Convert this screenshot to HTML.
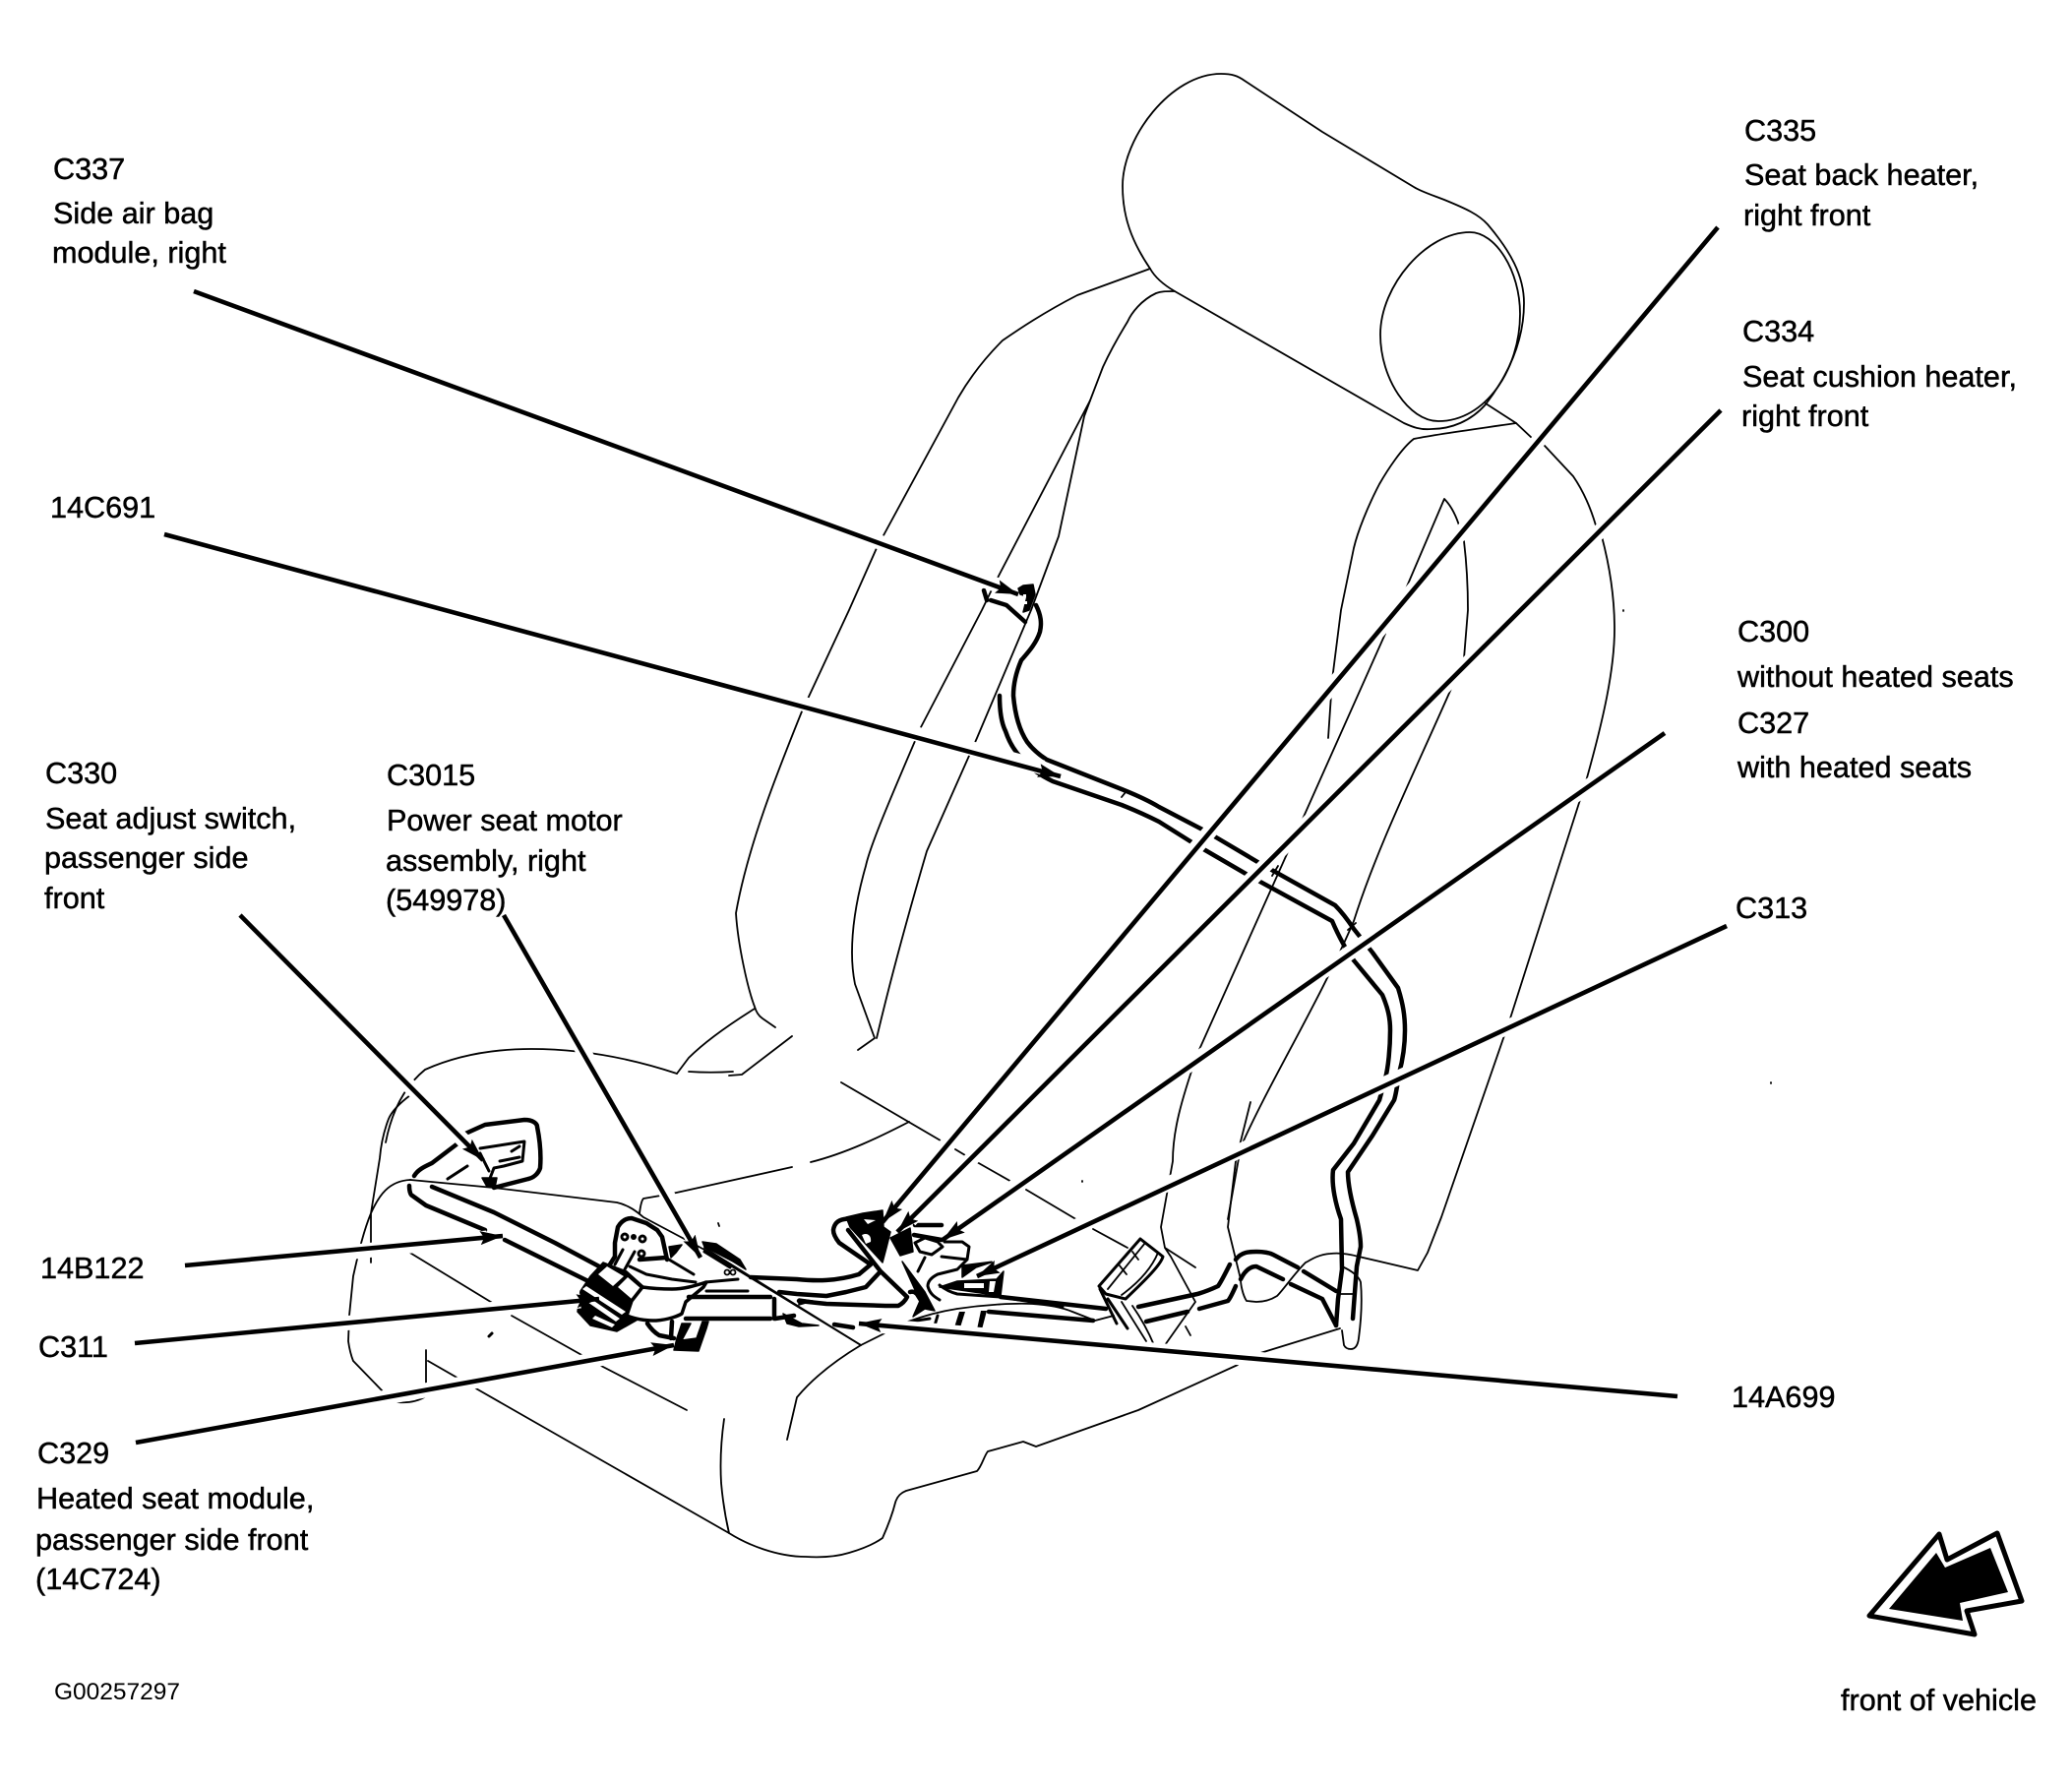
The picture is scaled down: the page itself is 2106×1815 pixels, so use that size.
<!DOCTYPE html>
<html><head><meta charset="utf-8"><style>
html,body{margin:0;padding:0;background:#fff}
svg{display:block}
text{font-family:"Liberation Sans",Arial,sans-serif;font-size:30.6px;fill:#000;stroke:#000;stroke-width:.5px}
.t{fill:none;stroke:#000;stroke-width:1.8;stroke-linejoin:round;stroke-linecap:round}
.h{fill:none;stroke:#000;stroke-width:4.5;stroke-linejoin:round;stroke-linecap:round}
.m{fill:none;stroke:#000;stroke-width:3;stroke-linejoin:round;stroke-linecap:round}
.b{fill:#000;stroke:#000;stroke-width:1.5;stroke-linejoin:round}
.w{fill:#fff;stroke:#000;stroke-width:2.5;stroke-linejoin:round}
.halo{stroke:#fff;stroke-width:15;fill:none}
.l{stroke:#000;stroke-width:4.6;fill:none;marker-end:url(#a)}
</style></head><body>
<svg xmlns="http://www.w3.org/2000/svg" width="2106" height="1815" viewBox="0 0 2106 1815">
<defs><marker id="a" markerUnits="userSpaceOnUse" markerWidth="26" markerHeight="16" refX="23" refY="7" orient="auto"><path d="M0,0 L23,7 L0,14 L4,7Z" fill="#000"/></marker></defs>
<rect width="2106" height="1815" fill="#fff"/>

<!-- headrest -->
<path class="t" d="M1169,273 C1150,245 1141,220 1141,189 C1141,140 1190,75 1241,75 C1252,75 1258,77 1265,82 L1344,134 L1437,190 C1445,195 1458,199 1468,203 C1490,212 1503,218 1512,228 C1535,255 1549,280 1549,308 C1549,350 1530,385 1510,411 C1495,428 1475,436 1455,436 C1443,437 1436,434 1427,430 L1194,296 C1182,289 1174,282 1169,273"/>
<path class="t" d="M1494,236 C1450,236 1403,290 1403,340 C1403,385 1432,428 1462,428 C1510,428 1545,375 1545,319 C1545,275 1520,236 1494,236Z"/>
<!-- seat back -->
<path class="t" d="M1169,273 L1095,300 C1060,318 1035,335 1019,346 C1000,365 985,385 974,404 L891,557 L863,620 L815,723 C790,785 760,860 748,928 C750,960 760,1005 767,1023 C769,1030 772,1033 775,1035 L788,1044"/>
<path class="t" d="M805,1053 L754,1092 L741,1093 M767,1025 C735,1045 715,1060 700,1075 L688,1091 M700,1089 C715,1090 730,1090 745,1089"/>
<path class="t" d="M1194,296 C1185,296 1180,296 1175,298 C1160,305 1150,318 1146,327 C1135,345 1127,360 1121,373 L1108,407 L1012,591 L998,620 L936,739 C910,800 885,857 880,880 C870,915 866,945 866,968 C866,985 868,995 869,1000 L889,1055 L872,1067"/>
<path class="t" d="M1108,407 L1102,423 L1076,545 L1048,620 L993,750 L942,865 C920,940 904,1000 891,1055"/>
<path class="t" d="M1510,410 L1541,430 C1500,436 1455,442 1437,446 C1425,455 1410,478 1402,492 C1390,515 1380,540 1376,557 L1363,620 L1354,691 L1350,750"/>
<path class="t" d="M1541,430 L1558,446 M1570,453 L1599,484 C1610,500 1617,517 1622,534 M1628,545 C1636,575 1641,605 1641,639 C1641,680 1630,730 1612,794 L1535,1035 L1465,1237 L1451,1273 L1441,1291 L1381,1277 C1370,1274 1360,1273 1352,1274 C1338,1275 1330,1282 1327,1283 C1315,1295 1305,1310 1298,1317 C1290,1322 1283,1323 1277,1323 L1267,1322 C1263,1316 1261,1305 1261,1300 L1248,1247 L1256,1180 L1271,1120"/>
<path class="t" d="M1468,507 L1424,610 M1468,507 C1476,515 1481,527 1484,537 M1488,550 C1491,575 1492,600 1492,620 L1488,669 M1478,693 C1440,780 1400,860 1376,936 C1340,1020 1290,1100 1261,1166 L1248,1239 M1408,644 L1325,830 L1217,1071 C1200,1120 1192,1150 1192,1180 L1180,1247 L1184,1268 L1190,1277 L1215,1323 L1184,1367 M1205,1348 L1210,1357 M1184,1268 L1215,1288"/>
<!-- cushion -->
<path class="t" d="M392,1161 C398,1130 410,1105 432,1087 C470,1070 510,1066 540,1066 C590,1066 640,1075 688,1091"/>
<path class="t" d="M417,1113 C405,1122 398,1130 395,1137 C390,1150 387,1165 386,1177 L377,1233 L377,1283 M417,1199 C395,1200 385,1215 377,1233 C370,1250 365,1270 359,1297 L355,1337 L354,1363 C355,1370 357,1378 359,1383 L390,1415"/>
<path class="t" d="M417,1199 L502,1207 L627,1222 C640,1225 648,1232 654,1237 L703,1263 L716,1270 L875,1367 M650,1233 C651,1225 652,1220 654,1218 L683,1213 L805,1186 M824,1181 C860,1172 895,1155 924,1140"/>
<path class="t" d="M433,1372 L433,1407 M435,1383 L482,1410 L741,1558 C760,1570 790,1582 819,1582 C835,1583 850,1582 863,1578 C880,1573 890,1568 897,1563 C905,1545 908,1535 910,1527 C912,1520 916,1517 921,1515 L993,1495 C998,1490 1000,1480 1004,1475 L1040,1465 L1053,1470 L1157,1433 L1258,1387 M1281,1375 L1362,1350 M404,1425 C415,1426 425,1424 433,1419"/>
<path class="t" d="M415,1272 L502,1325 M520,1337 L593,1378 M611,1388 L698,1433 M899,1355 L875,1367 C845,1385 825,1402 810,1420 L800,1463 M736,1442 C732,1470 732,1490 733,1507 C735,1530 738,1545 741,1558"/>
<path class="t" d="M855,1100 L961,1162 M971,1168 L981,1174 M993,1181 L1030,1202 M1043,1209 L1097,1241 M1111,1249 L1146,1268"/>

<!-- upper harness -->
<path class="h" d="M1053,615 C1058,625 1059,633 1057,642 C1053,655 1043,665 1038,671 C1032,685 1030,697 1030,707 C1032,730 1038,745 1044,754 C1050,762 1056,767 1064,772 L1140,802 C1155,808 1168,814 1178,820 L1226,845 L1280,877 L1357,920 C1365,928 1370,935 1376,944 L1395,968 L1421,1004 C1426,1020 1428,1032 1428,1047 C1428,1065 1425,1080 1422,1091 C1420,1105 1419,1112 1417,1118 L1395,1154 L1370,1191 C1370,1200 1372,1215 1379,1239 C1382,1252 1383,1260 1383,1267 L1379,1287 L1375,1340"/>
<path class="h" d="M1016,707 C1016,722 1018,735 1022,743 C1026,755 1032,764 1038,770 C1048,782 1058,788 1070,794 L1140,818 C1155,824 1168,830 1178,835 L1213,857 L1268,889 L1354,936 C1360,950 1368,965 1376,976 L1405,1011 C1411,1025 1413,1035 1413,1047 C1413,1065 1411,1085 1408,1096 L1402,1118 L1376,1162 L1355,1189 C1353,1205 1358,1225 1363,1239 L1364,1290 L1360,1320 L1358,1347"/>
<path class="t" d="M1364,1287 C1375,1292 1381,1297 1383,1303 C1385,1325 1383,1345 1381,1360 C1380,1368 1377,1371 1373,1371 C1369,1371 1367,1369 1366,1367 L1364,1352 M1362,1315 L1378,1315 M1140,810 L1144,805 M1293,890 L1299,880 M1370,945 L1378,938"/>

<!-- air bag connector -->
<path class="b" d="M1035,598 L1040,595 L1050,594 L1052,604 L1046,620 L1040,622 L1044,606 L1037,604Z"/>
<path d="M1040,604 h3 v3 h-3z M1041,611 h3 v3 h-3z" fill="#fff"/>
<path class="h" d="M1000,600 L1003,610 M1007,610 L1023,615 L1042,632"/>

<!-- lower right harness -->
<path class="h" d="M1256,1280 C1262,1272 1270,1272 1277,1272 C1285,1272 1290,1273 1294,1275 L1319,1288 M1325,1292 L1358,1312 M1261,1300 C1265,1292 1270,1287 1277,1287 L1304,1300 M1312,1305 L1344,1320 L1358,1347"/>
<path class="h" d="M1250,1285 C1245,1295 1241,1303 1238,1307 C1225,1313 1220,1314 1217,1315 L1157,1328 M1256,1307 C1252,1316 1250,1320 1248,1322 L1219,1330 M1207,1333 L1165,1343"/>
<path class="h" d="M1017,1318 L1124,1330 M1005,1333 L1111,1342"/>
<path class="t" d="M923,1343 C945,1335 960,1332 973,1330 C1000,1326 1030,1324 1049,1325 C1065,1326 1078,1328 1090,1333 L1113,1342 L1132,1337"/>
<!-- heater module -->
<path class="m" d="M1159,1259 L1117,1307 L1124,1315 L1144,1320 C1165,1300 1180,1285 1182,1277 Z"/>
<path class="t" d="M1164,1263 L1126,1310 M1177,1273 C1170,1290 1155,1305 1140,1316 M1137,1285 L1145,1295 M1151,1272 L1157,1280"/>
<path class="m" d="M1126,1320 L1146,1350 M1118,1310 L1135,1345"/>
<path class="t" d="M1140,1323 L1165,1363 M1151,1327 C1160,1340 1168,1355 1173,1367"/>

<!-- center harness: loop and crossing -->
<path class="h" d="M763,1298 L810,1300 C830,1302 850,1302 873,1295 L885,1285 L853,1263 C849,1258 847,1254 847,1250 C848,1243 852,1240 858,1239 L865,1238"/>
<path class="h" d="M792,1313 L810,1315 L840,1317 L860,1313 L880,1308 L895,1292 L862,1250 M895,1292 L922,1318 C920,1322 917,1325 913,1327 L900,1327 L840,1325 L812,1322"/>
<path class="h" d="M925,1313 C928,1312 930,1313 932,1315 L937,1323"/>
<!-- loop top blob -->
<path class="b" d="M860,1237 L877,1233 L897,1230 L898,1247 L905,1252 L901,1268 L897,1283 L864,1247Z"/>
<path d="M876,1255 C882,1252 886,1256 885,1262 L880,1264 Z M878,1239 L890,1240 L882,1244Z" fill="#fff"/>
<!-- C327 -->
<path class="b" d="M905,1258 L925,1248 L928,1272 L915,1276 Z"/>
<path class="h" d="M930,1245 L957,1245 M929,1255 L957,1260"/>
<path class="m" d="M930,1263 L940,1258 L953,1262 L958,1267 L947,1275 L935,1272Z"/>
<path class="m" d="M960,1262 L978,1262 L985,1267 L983,1280 L957,1277 M940,1278 L933,1292 M983,1280 L973,1290 L953,1295 C947,1298 943,1302 943,1307 C945,1315 950,1318 955,1321"/>
<path class="m" d="M955,1306 C960,1310 965,1313 973,1315 L1017,1318 L1080,1328"/>
<path class="b" d="M917,1282 L940,1313 L950,1332 L940,1330 L928,1338 L935,1322 Z"/>
<path class="b" d="M955,1308 L973,1302 L1013,1300 L1020,1292 L1017,1317 L990,1313Z"/>
<path d="M980,1304 L1000,1304 L1000,1309 L980,1309Z M1006,1302 L1012,1302 L1010,1313 L1005,1313Z" fill="#fff"/>
<path class="b" d="M978,1286 L1010,1282 L992,1288 L978,1298Z"/>
<path class="m" d="M953,1337 L950,1347 M942,1357 L973,1360 M925,1343 L945,1340"/>
<path d="M975,1333 L981,1333 L976,1349 L970,1349Z M997,1332 L1003,1332 L998,1351 L993,1351Z" fill="#000"/>

<!-- left harness 14B122 -->
<path class="h" d="M416,1205 C416,1212 418,1215 419,1215 L433,1225 L493,1250 M513,1260 L600,1303"/>
<path class="h" d="M439,1206 L502,1232 L564,1263 L609,1287"/>
<!-- C330 loop -->
<path class="h" d="M473,1152 L493,1143 L533,1138 C542,1138 546,1142 546,1145 C549,1160 550,1175 549,1187 C547,1193 542,1197 537,1198 L502,1207 M421,1195 C425,1188 433,1185 439,1182 L464,1163"/>
<path class="m" d="M488,1167 L533,1160 L531,1180 L512,1185 L502,1187 L497,1200 M520,1170 L528,1165 M508,1180 L528,1176 M488,1172 L497,1190 M475,1185 L455,1198"/>
<path class="b" d="M490,1197 L505,1197 L503,1207 L495,1206Z"/>

<!-- motor module -->
<path class="h" d="M618,1288 L625,1277 L625,1263 L628,1247 C632,1240 637,1238 642,1238 L657,1243 L668,1250 L673,1257 L678,1280 M650,1280 L677,1278"/>
<circle class="m" cx="635" cy="1257" r="3"/><circle class="m" cx="653" cy="1259" r="3"/><circle class="m" cx="652" cy="1274" r="3"/>
<circle cx="644" cy="1257" r="3" fill="#000"/>
<path class="m" d="M645,1272 L635,1290 M633,1270 L625,1285"/>
<path class="b" d="M680,1267 L693,1265 L687,1273 L682,1278Z"/>
<path class="m" d="M680,1280 L705,1295 M640,1287 L657,1295 L683,1300 L707,1303"/>
<!-- left connector -->
<path class="b" d="M590,1312 L600,1297 L613,1283 L637,1292 L657,1310 L650,1340 L627,1353 L600,1347 L587,1333 Z"/>
<path d="M608,1295 L617,1287 L634,1297 L623,1307 Z M628,1308 L638,1298 L652,1310 L642,1320Z" fill="#fff"/>
<path d="M596,1307 L636,1333 L632,1336 L592,1310Z M598,1318 L630,1340 L626,1343 L594,1321Z M605,1337 L625,1346 L622,1349 L602,1340Z" fill="#fff"/>
<!-- tube curve -->
<path d="M637,1337 C650,1342 660,1342 667,1342 C680,1341 690,1337 693,1335 L697,1323 L715,1308 L718,1303 C705,1307 695,1310 683,1310 C670,1310 660,1309 653,1308 L642,1322 Z" fill="#fff" stroke="#000" stroke-width="3.5" stroke-linejoin="round"/>
<!-- straight tube -->
<path class="h" d="M700,1318 L783,1318 M697,1340 L783,1340 M787,1320 L787,1340 M788,1340 L807,1337"/>
<path class="m" d="M718,1312 L760,1312 M717,1303 L750,1300"/>
<path class="h" d="M658,1345 C662,1351 665,1354 670,1357 L685,1360 M683,1343 L682,1360"/>
<!-- C329 -->
<path class="b" d="M693,1345 L688,1360 L685,1372 L710,1373 L718,1350 L720,1343 L714,1343 L708,1360 L693,1362 L702,1345Z"/>
<!-- C3015 connector -->
<path class="b" d="M714,1262 L728,1264 L752,1280 L758,1290 L745,1282 L716,1267Z"/>
<path class="m" d="M716,1272 L742,1288"/>
<circle class="t" cx="739" cy="1293" r="2.5"/><circle class="t" cx="745" cy="1293" r="2.5"/>
<path class="t" d="M716,1268 L875,1367"/>
<path class="h" d="M848,1346 L867,1349"/>
<path class="b" d="M796,1335 L815,1345 L832,1347 L812,1348 L800,1345Z"/>
<path class="b" d="M812,1320 L826,1322 L812,1326Z"/>
<!-- specks -->
<path class="m" d="M497,1358 L500,1355"/>
<path class="t" d="M730,1243 L731,1246 M1100,1200 L1100,1201 M1800,1100 L1800,1101 M1650,620 L1650,621"/>

<!-- leader halos -->
<g class="halo">
<path d="M197,296 L1020,597"/><path d="M167,543 L1060,780"/>
<path d="M1746,231 L910,1225"/><path d="M1749,417 L925,1240"/>
<path d="M1692,745 L975,1245"/><path d="M1755,941 L1010,1285"/>
<path d="M1705,1419 L890,1347"/><path d="M188,1290 L495,1258"/>
<path d="M137,1365 L590,1322"/><path d="M138,1466 L670,1370"/>
<path d="M512,930 L705,1260"/><path d="M244,930 L480,1168"/>
</g>
<g class="l">
<path d="M197,296 L1035,604"/><path d="M167,543 L1078,789"/>
<path d="M1746,231 L897,1242"/><path d="M1749,417 L912,1252"/>
<path d="M1692,745 L958,1260"/><path d="M1755,941 L993,1297"/>
<path d="M1705,1419 L873,1345"/><path d="M188,1286 L511,1256"/>
<path d="M137,1365 L609,1320"/><path d="M138,1466 L685,1367"/>
<path d="M512,930 L712,1278"/><path d="M244,930 L491,1179"/>
</g>

<!-- front arrow -->
<path d="M1900,1642 L1971,1559 L1979,1585 L2030,1558 L2055,1627 L1999,1637 L2007,1661Z" fill="#fff" stroke="#000" stroke-width="5" stroke-linejoin="round"/>
<path d="M1920,1635 L1968,1578 L1977,1593 L2023,1573 L2041,1618 L1992,1629 L1995,1647Z" fill="#000"/>

<!-- labels -->
<text x="54" y="182">C337</text><text x="54" y="227">Side air bag</text><text x="53" y="267">module, right</text>
<text x="51" y="526">14C691</text>
<text x="46" y="796">C330</text><text x="46" y="842">Seat adjust switch,</text><text x="45" y="882">passenger side</text><text x="45" y="923">front</text>
<text x="393" y="798">C3015</text><text x="393" y="844">Power seat motor</text><text x="392" y="885">assembly, right</text><text x="392" y="925">(549978)</text>
<text x="41" y="1299">14B122</text><text x="39" y="1379">C311</text>
<text x="38" y="1487">C329</text><text x="37" y="1533">Heated seat module,</text><text x="36" y="1575">passenger side front</text><text x="36" y="1615">(14C724)</text>
<text x="55" y="1727" style="font-size:24.5px;stroke-width:0">G00257297</text>
<text x="1773" y="143">C335</text><text x="1773" y="188">Seat back heater,</text><text x="1772" y="229">right front</text>
<text x="1771" y="347">C334</text><text x="1771" y="393">Seat cushion heater,</text><text x="1770" y="433">right front</text>
<text x="1766" y="652">C300</text><text x="1766" y="698">without heated seats</text><text x="1766" y="745">C327</text><text x="1766" y="790">with heated seats</text>
<text x="1764" y="933">C313</text><text x="1760" y="1430">14A699</text>
<text x="1871" y="1738">front of vehicle</text>
</svg>
</body></html>
